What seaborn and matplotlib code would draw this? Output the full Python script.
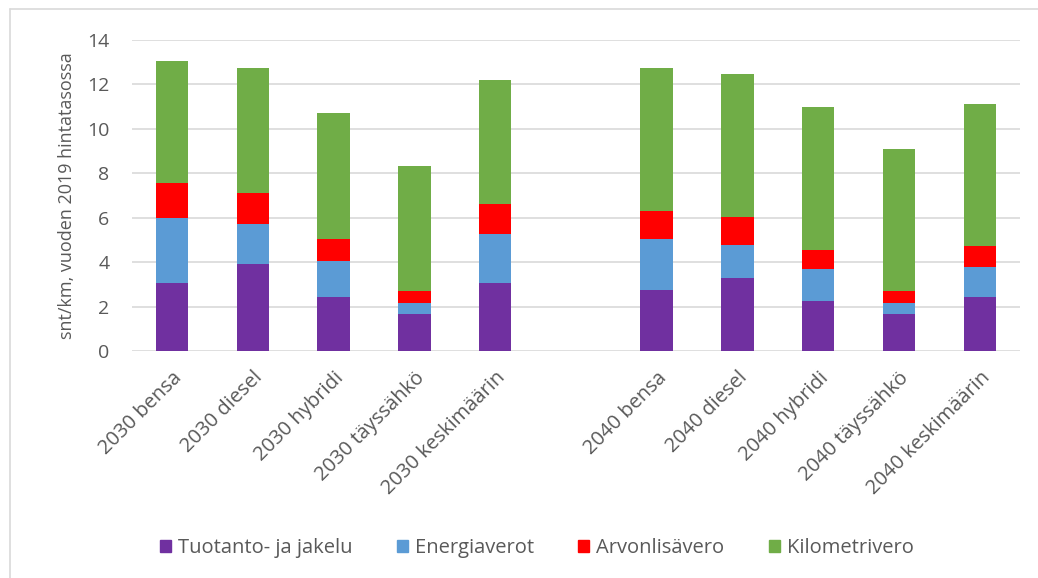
import matplotlib
matplotlib.use("Agg")
import matplotlib.pyplot as plt
import matplotlib.patches as mpatches
import numpy as np
import pandas as pd
import seaborn as sns

# Categories (an empty slot separates the 2030 and 2040 groups)
categories = ["2030 bensa", "2030 diesel", "2030 hybridi", "2030 täyssähkö", "2030 keskimäärin",
              "",
              "2040 bensa", "2040 diesel", "2040 hybridi", "2040 täyssähkö", "2040 keskimäärin"]

# Cost components, snt/km
tuotanto = [3.05, 3.92, 2.42, 1.68, 3.05, 0, 2.76, 3.27, 2.27, 1.68, 2.42]
energiaverot = [2.95, 1.80, 1.65, 0.50, 2.23, 0, 2.29, 1.50, 1.44, 0.50, 1.35]
arvonlisavero = [1.55, 1.40, 0.99, 0.51, 1.33, 0, 1.26, 1.25, 0.85, 0.51, 0.94]
kilometrivero = [5.50, 5.60, 5.64, 5.63, 5.59, 0, 6.41, 6.43, 6.43, 6.42, 6.43]

series_names = ["Tuotanto- ja jakelu", "Energiaverot", "Arvonlisävero", "Kilometrivero"]
series_values = [tuotanto, energiaverot, arvonlisavero, kilometrivero]
colors = ["#7030A0", "#5B9BD5", "#FF0000", "#70AD47"]

y_ticks = [0, 2, 4, 6, 8, 10, 12, 14]
y_label = "snt/km, vuoden 2019 hintatasossa"

text_color = "#595959"
grid_color = "#D9D9D9"

sns.set_style("white")
plt.rcParams["font.family"] = ["Open Sans", "DejaVu Sans"]

fig = plt.figure(figsize=(10.38, 5.78), dpi=100)
ax = fig.add_axes([0.1269, 0.3927, 0.8558, 0.5381])

slot_keys = [f"c{i}" for i in range(len(categories))]
bottom = np.zeros(len(categories))
for name, vals, col in zip(series_names, series_values, colors):
    df = pd.DataFrame({"slot": slot_keys, "value": vals})
    sns.barplot(data=df, x="slot", y="value", order=slot_keys, color=col,
                width=0.4, bottom=bottom, ax=ax, saturation=1, linewidth=0,
                errorbar=None)
    bottom = bottom + np.array(vals)

if ax.get_legend() is not None:
    ax.get_legend().remove()

ax.set_ylim(0, 14)
ax.set_xlim(-0.5, len(categories) - 0.5)
ax.set_yticks(y_ticks)
ax.set_yticklabels([str(t) for t in y_ticks], fontsize=14, color=text_color)
ax.set_xticks(range(len(categories)))
ax.set_xticklabels(categories, rotation=45, ha="right", rotation_mode="anchor",
                   fontsize=14.5, color=text_color)
ax.tick_params(axis="both", length=0)
ax.tick_params(axis="y", pad=16)
ax.tick_params(axis="x", pad=12)
ax.set_xlabel("")
ax.set_ylabel(y_label, fontsize=13, color=text_color, labelpad=8)

ax.yaxis.grid(True, color=grid_color, linewidth=1.2)
ax.set_axisbelow(True)
for s in ["top", "right", "left", "bottom"]:
    ax.spines[s].set_visible(False)

handles = [mpatches.Patch(color=c, label=n) for n, c in zip(series_names, colors)]
fig.legend(handles=handles, loc="center", bbox_to_anchor=(0.517, 0.052), ncol=4,
           frameon=False, fontsize=14.5, handlelength=0.55, handleheight=0.55,
           handletextpad=0.35, columnspacing=2.2, labelcolor=text_color)

# Chart area border (left and top edges)
fig.add_artist(plt.Line2D([10 / 1038, 10 / 1038], [0, 1 - 9 / 578],
                          transform=fig.transFigure, color="#D9D9D9", linewidth=1.2))
fig.add_artist(plt.Line2D([10 / 1038, 1], [1 - 9 / 578, 1 - 9 / 578],
                          transform=fig.transFigure, color="#D9D9D9", linewidth=1.2))

fig.savefig("out.png", dpi=100)
